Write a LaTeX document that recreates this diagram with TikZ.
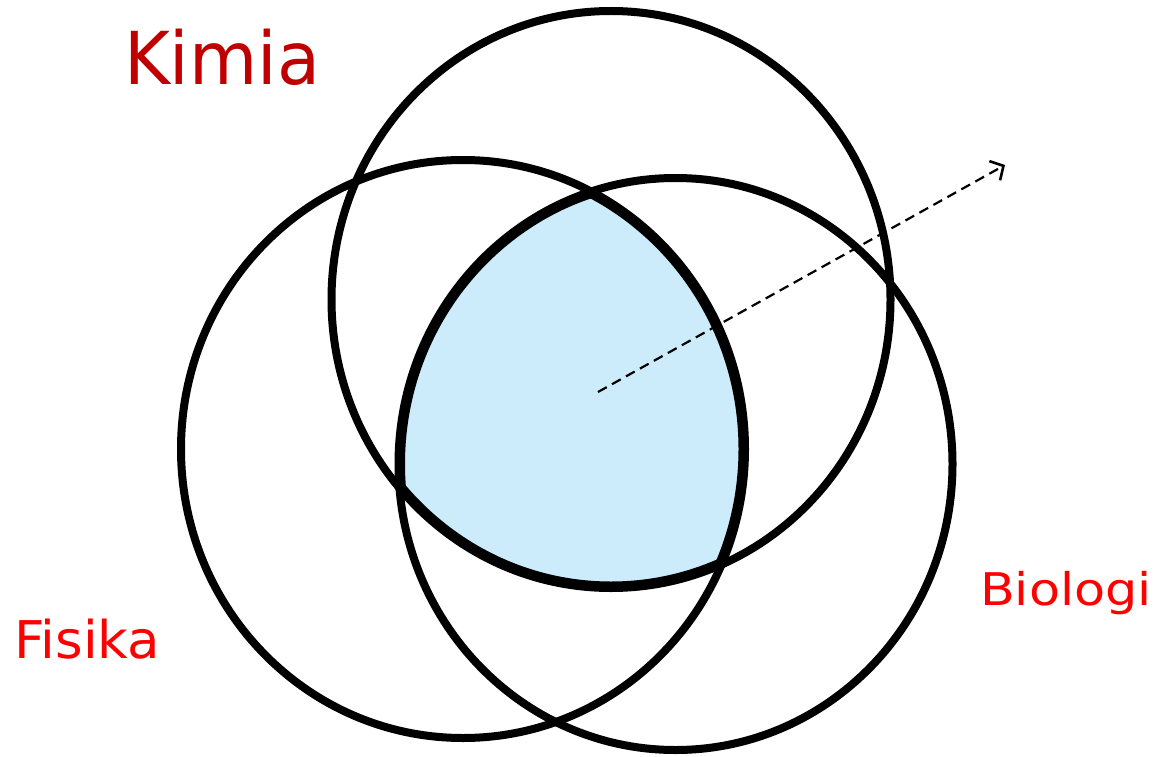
\documentclass[tikz,border=0pt]{standalone}
\usepackage{fontspec}
\setmainfont{DejaVu Sans}
\usetikzlibrary{arrows.meta}
\definecolor{kimiared}{RGB}{192,0,0}
\definecolor{labred}{RGB}{255,0,0}
\definecolor{shadeblue}{RGB}{204,236,252}
\begin{document}
\begin{tikzpicture}[x=1pt,y=-1pt,
  ring/.style={draw=black,line width=8pt},
  lab/.style={anchor=base west,inner sep=0pt,outer sep=0pt}]
\useasboundingbox (0,0) rectangle (1159,757);
\coordinate (kc) at (611,299.5);
\coordinate (fc) at (463,449);
\coordinate (bc) at (675.5,464);
% shaded intersection
\begin{scope}
  \clip (kc) ellipse [x radius=279.5pt, y radius=288.5pt];
  \clip (fc) ellipse [x radius=282pt, y radius=289pt];
  \clip (bc) ellipse [x radius=277pt, y radius=286pt];
  \fill[shadeblue] (0,0) rectangle (1159,757);
  \draw[line width=13pt] (kc) ellipse [x radius=279.5pt, y radius=288.5pt];
  \draw[line width=13pt] (fc) ellipse [x radius=282pt, y radius=289pt];
  \draw[line width=13pt] (bc) ellipse [x radius=277pt, y radius=286pt];
\end{scope}
% circles
\draw[ring] (kc) ellipse [x radius=279.5pt, y radius=288.5pt];
\draw[ring] (fc) ellipse [x radius=282pt, y radius=289pt];
\draw[ring] (bc) ellipse [x radius=277pt, y radius=286pt];
% arrow
\coordinate (as) at (598,392);
\coordinate (ae) at (1005,165);
\draw[line width=2.2pt, dash pattern=on 10pt off 6pt,
  -{Straight Barb[length=10pt,width=22pt,line width=2.6pt]}] (as) -- (ae);
% labels
\node[lab, text=kimiared, font=\fontsize{73}{73}\selectfont, xscale=0.96] (kimia) at (124,85) {Kimia};
\node[lab, text=labred, font=\fontsize{52}{52}\selectfont, xscale=1.02] (fisika) at (14,658) {Fisika};
\node[lab, text=labred, font=\fontsize{45}{45}\selectfont, xscale=1.13] (biologi) at (980,605) {Biologi};
\end{tikzpicture}
\end{document}
